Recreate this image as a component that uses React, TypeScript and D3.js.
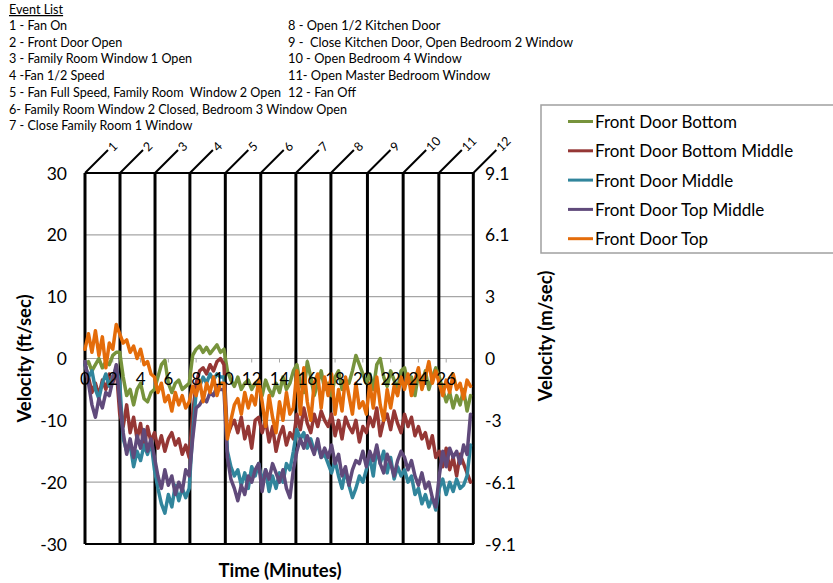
import React from "react";
import * as d3 from "d3";

const STEP = 0.25; // minutes between samples

const seriesNames = [
  "Front Door Bottom",
  "Front Door Bottom Middle",
  "Front Door Middle",
  "Front Door Top Middle",
  "Front Door Top",
];
const seriesColors = ["#77933C", "#953735", "#31859C", "#604A7B", "#E46C0A"];

const frontDoorBottom = [
  -1, -0.5, -2, -1, 0, -1.5, -0.5, -1, 0.5, 1,
  1, -3, -6, -5, -7.5, -5, -4, -6.5, -7, -5.5,
  -5, -3, -1, -0.3, -4, -5.5, -4, -3.5, -5, -4.5,
  -4, 0.5, 1.5, 2, 1, 1.8, 0.8, 1.5, 2.2, 1,
  1.5, -2, -3.5, -4.5, -3, -5, -4, -3.5, -5, -4,
  -4.5, -6, -3.5, -5, -6, -4, -5.5, -3, -5, -4,
  -2, -1, -4, -5.5, -0.5, -3, -6, -4, -2, -5,
  -4, -6, -3, -2, -5, -3.5, -4, -2, 0.5, -1, -2.5,
  -4, -2.5, -5, -1, 0, -3, -4.5, -2, -3.5, -5, -2,
  -1.5, -4, -3, -6, -2.5, -4, -2, -5, -3, -1.5,
  -3, -5, -7, -5.5, -8, -6, -7.5, -5, -8.5, -6,
];
const frontDoorBottomMiddle = [
  -1, -3, -5.5, -4, -6, -3.5, -5, -2.5, -4, -1.5,
  -9, -11, -7.5, -12, -9.5, -13, -10.5, -14.5, -11, -13.5,
  -12, -14.5, -12.5, -15, -13, -12, -14, -13, -15.5, -14,
  -16, -9, -4, -2, -1.5, -2.5, -1, -2, -0.5, 0,
  -1, -12.5, -11, -10, -12, -9.5, -13, -11, -14.5, -10,
  -9.5, -12, -10, -13.5, -11, -15, -12.5, -11, -14, -12,
  -13, -9, -11.5, -8, -10.5, -12, -9, -11, -8.5, -10,
  -11, -9, -12.5, -10, -13, -9.5, -11, -12, -10, -13.5, -11,
  -12, -9.5, -11, -8, -12.5, -10, -9, -11.5, -8.5, -10.5, -12,
  -9, -11, -9.5, -12.5, -11, -13, -12, -14.5, -12.5, -16,
  -15, -17.5, -14.5, -18, -16, -19, -15.5, -17, -18.5, -20,
];
const frontDoorMiddle = [
  -1, -3, -2, -5, -6.5, -4, -2.5, -4.5, -3, -1.5,
  -4, -13, -15, -14, -17.5, -15, -16.5, -14, -15.5, -13.5,
  -18, -21, -23.5, -25, -22, -24, -20.5, -23, -21, -22.5,
  -21, -12, -5.5, -4.5, -3, -4, -2.5, -3.5, -2.5, -3,
  -3, -15, -17.5, -19, -18, -20.5, -18.5, -21, -17.5, -19,
  -17, -20, -18, -21.5, -19, -21, -18.5, -20, -17, -18,
  -15, -11.5, -13, -12, -14.5, -13, -15, -14, -16, -15.5,
  -17, -18.5, -16.5, -19, -21, -18, -20.5, -22.5, -21, -19, -20,
  -18, -16, -19, -14.5, -17, -15, -18.5, -16, -19.5, -17.5, -19,
  -18, -20, -19, -22, -21, -23.5, -22, -24, -22.5, -24.5,
  -21, -19.5, -22, -20, -21.5, -19.5, -21, -20.5, -19, -14,
];
const frontDoorTopMiddle = [
  -0.5, -4, -7.5, -9.5, -6.5, -8, -5.5, -6, -3.5, -1,
  -7, -12, -15.5, -13, -16, -12.5, -14.5, -11.5, -15, -13,
  -16, -19, -21, -18, -20.5, -19, -22, -20, -21.5, -18,
  -19, -13, -8, -7.5, -6.5, -7, -5.5, -6, -4.5, -5,
  -5, -16, -19.5, -21, -23, -20.5, -22, -19, -20, -18,
  -17, -21.5, -18, -19.5, -17, -18.5, -20, -18, -21, -22.5,
  -18, -15, -13, -14.5, -12.5, -14, -15.5, -13, -16, -14.5,
  -16, -14, -17, -15.5, -19, -17.5, -20.5, -18, -16.5, -17, -15,
  -17.5, -15, -16.5, -14, -17, -18.5, -15.5, -17, -19, -16.5, -15,
  -16, -18, -16.5, -19, -20.5, -18.5, -21, -20, -22.5, -24,
  -19, -15, -17.5, -14.5, -16, -15, -17, -14, -15.5, -9,
];
const frontDoorTop = [
  1.5, 4, 1, 4.5, 0.5, 3.5, -1.5, 2.5, 1.5, 5.5,
  4, 2.5, 3, 1, 2, 0, 1.5, -1, -0.5, -2.5,
  -3, -5.5, -4, -7, -6, -8.5, -5.5, -7.5, -6, -8,
  -7, -4.5, -6, -3.5, -7, -4, -5.5, -3, -6, -4,
  -4, -13, -10, -7.5, -6.5, -9, -5.5, -8, -6, -7.5,
  -3.5, -7, -11, -6, -9.5, -12, -7, -10, -5.5, -9,
  -8, -2, -9, -1.5, -7, -10, -4, -2.5, -8, -3,
  -6, -2.5, -9, -5, -8.5, -3, -6, -9, -4, -8, -7,
  -9, -4, -8, -3, -7.5, -10, -5, -8, -4.5, -6, -3,
  -5, -2.5, -6, -3.5, -1.5, -5, -3, -0.5, -4, -2,
  -4, -6, -3.5, -5.5, -2.5, -5, -4, -6.5, -3.5, -4.5,
];
const seriesValues = [frontDoorBottom, frontDoorBottomMiddle, frontDoorMiddle, frontDoorTopMiddle, frontDoorTop];

const eventTimes = [0, 2.52, 5.04, 7.55, 10.1, 12.65, 15.18, 17.7, 20.33, 22.9, 25.47, 27.95];
const eventNumbers = ["1", "2", "3", "4", "5", "6", "7", "8", "9", "10", "11", "12"];

const xTicks = [0, 2, 4, 6, 8, 10, 12, 14, 16, 18, 20, 22, 24, 26];
const yTicks = [30, 20, 10, 0, -10, -20, -30];
const yRightLabels = ["9.1", "6.1", "3", "0", "-3", "-6.1", "-9.1"];

const eventListLeft = [
  "1 - Fan On",
  "2 - Front Door Open",
  "3 - Family Room Window 1 Open",
  "4 -Fan 1/2 Speed",
  "5 - Fan Full Speed, Family Room  Window 2 Open",
  "6- Family Room Window 2 Closed, Bedroom 3 Window Open",
  "7 - Close Family Room 1 Window",
];
const eventListRight = [
  "8 - Open 1/2 Kitchen Door",
  "9 -  Close Kitchen Door, Open Bedroom 2 Window",
  "10 - Open Bedroom 4 Window",
  "11- Open Master Bedroom Window",
  "12 - Fan Off",
];

const FONT = "Lato, 'Open Sans', sans-serif";

export default function App() {
  const x = d3.scaleLinear().domain([0, 28]).range([85, 474]);
  const y = d3.scaleLinear().domain([-30, 30]).range([544, 173]);
  const line = d3
    .line<number>()
    .x((_, i) => x(i * STEP))
    .y((d) => y(d));

  return (
    <svg
      width={833}
      height={583}
      style={{ position: "absolute", left: 0, top: 0, background: "#fff" }}
      fontFamily={FONT}
    >
      {/* Event list */}
      <text x={9} y={14} fontSize={12.6} textDecoration="underline" fill="#000">
        Event List
      </text>
      {eventListLeft.map((s, i) => (
        <text key={"l" + i} x={9} y={30 + i * 16.7} fontSize={12.6} fill="#000" style={{ whiteSpace: "pre" }}>
          {s}
        </text>
      ))}
      {eventListRight.map((s, i) => (
        <text key={"r" + i} x={288} y={30 + i * 16.7} fontSize={12.8} fill="#000" style={{ whiteSpace: "pre" }}>
          {s}
        </text>
      ))}

      {/* gridlines */}
      {yTicks.map((t) => (
        <line key={"g" + t} x1={x(0)} x2={x(28)} y1={y(t)} y2={y(t)} stroke="#a6a6a6" strokeWidth={1.2} />
      ))}
      {/* x-axis ticks at zero line */}
      {xTicks.concat([28]).map((t) => (
        <line key={"xt" + t} x1={x(t)} x2={x(t)} y1={y(0)} y2={y(0) + 4} stroke="#a6a6a6" strokeWidth={1} />
      ))}
      {/* left tick labels */}
      {yTicks.map((t) => (
        <text key={"yl" + t} x={67} y={y(t)} fontSize={17.5} textAnchor="end" dominantBaseline="central" fill="#000">
          {t}
        </text>
      ))}
      {/* right tick labels */}
      {yTicks.map((t, i) => (
        <text key={"yr" + t} x={485} y={y(t)} fontSize={17.5} textAnchor="start" dominantBaseline="central" fill="#000">
          {yRightLabels[i]}
        </text>
      ))}

      {/* bottom frame */}
      <line x1={x(0)} x2={x(28)} y1={y(-30)} y2={y(-30)} stroke="#000" strokeWidth={2} />

      {/* event lines */}
      <line x1={x(eventTimes[0])} x2={x(eventTimes[eventTimes.length - 1])} y1={y(30)} y2={y(30)} stroke="#000" strokeWidth={2} />
      {eventTimes.map((t, i) => (
        <g key={"ev" + i}>
          <line x1={x(t)} x2={x(t)} y1={y(30)} y2={y(-30)} stroke="#000" strokeWidth={3} />
          <line x1={x(t)} x2={x(t) + 23} y1={y(30)} y2={y(30) - 23} stroke="#000" strokeWidth={2} />
          <text
            transform={`translate(${x(t) + 25},${y(30) - 24}) rotate(-45)`}
            fontSize={12.5}
            dominantBaseline="central"
            fill="#000"
          >
            {eventNumbers[i]}
          </text>
        </g>
      ))}

      {/* series */}
      {seriesValues.map((vals, k) => (
        <path
          key={"s" + k}
          d={line(vals) || ""}
          fill="none"
          stroke={seriesColors[k]}
          strokeWidth={3.5}
          strokeLinejoin="round"
          strokeLinecap="round"
        />
      ))}

      {/* x tick labels (in plot, at zero line) */}
      {xTicks.map((t) => (
        <text key={"xl" + t} x={x(t)} y={y(0) + 26} fontSize={17} textAnchor="middle" fill="#000">
          {t}
        </text>
      ))}

      {/* axis titles */}
      <text
        transform={`translate(31,${y(0)}) rotate(-90)`}
        fontSize={18.5}
        fontWeight="bold"
        textAnchor="middle"
        fill="#000"
      >
        Velocity (ft/sec)
      </text>
      <text
        transform={`translate(552,336) rotate(-90)`}
        fontSize={18.5}
        fontWeight="bold"
        textAnchor="middle"
        fill="#000"
      >
        Velocity (m/sec)
      </text>
      <text x={280} y={577} fontSize={18.5} fontWeight="bold" textAnchor="middle" fill="#000">
        Time (Minutes)
      </text>

      {/* legend */}
      <rect x={541} y={105} width={300} height={148} fill="#fff" stroke="#a0a0a0" strokeWidth={1.5} />
      {seriesNames.map((n, i) => (
        <g key={"lg" + i}>
          <line x1={568} x2={593} y1={121.5 + i * 29.3} y2={121.5 + i * 29.3} stroke={seriesColors[i]} strokeWidth={3} />
          <text x={595} y={121.5 + i * 29.3} fontSize={17} dominantBaseline="central" fill="#000">
            {n}
          </text>
        </g>
      ))}
    </svg>
  );
}
